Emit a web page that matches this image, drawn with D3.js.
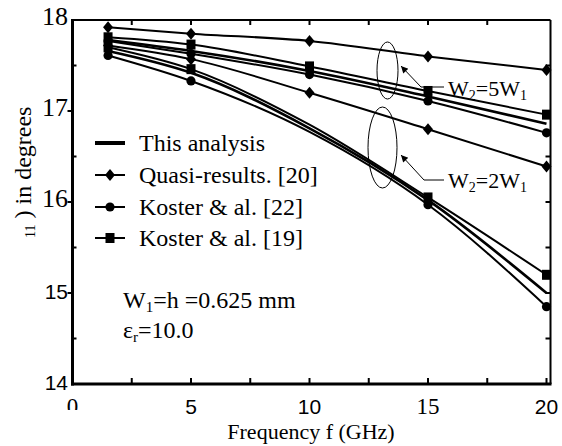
<!DOCTYPE html>
<html>
<head>
<meta charset="utf-8">
<script src="https://cdn.jsdelivr.net/npm/d3@7"></script>
<style>
  body { margin: 0; background: #fff; }
  .serif { font-family: "Liberation Serif", "Times New Roman", serif; }
  .sans { font-family: "Liberation Sans", Arial, sans-serif; }
</style>
</head>
<body>
<div id="chart"></div>
<script>
// frequencies (GHz)
var freqs = [1.5, 5, 10, 15, 20];

// W2 = 5W1
var thisAnalysis5 = [17.78, 17.66, 17.44, 17.16, 16.86];
var quasi5 = [17.92, 17.85, 17.77, 17.60, 17.45];
var koster22_5 = [17.77, 17.63, 17.40, 17.11, 16.76];
var koster19_5 = [17.81, 17.73, 17.49, 17.22, 16.96];

// W2 = 2W1
var thisAnalysis2 = [17.66, 17.42, 16.81, 16.02, 15.00];
var quasi2 = [17.72, 17.57, 17.20, 16.80, 16.39];
var koster22_2 = [17.61, 17.33, 16.77, 15.97, 14.85];
var koster19_2 = [17.70, 17.46, 16.85, 16.05, 15.20];

var xTicks = [0, 5, 10, 15, 20];
var yTicks = [14, 15, 16, 17, 18];
var legendLabels = ["This analysis", "Quasi-results. [20]", "Koster & al. [22]", "Koster & al. [19]"];

var svgWidth = 562;
var svgHeight = 446;

var svg = d3.select("#chart")
  .append("svg")
  .attr("width", svgWidth)
  .attr("height", svgHeight);

var x = d3.scaleLinear().domain([0, 20]).range([72.5, 546.5]);
var y = d3.scaleLinear().domain([14, 18]).range([384, 20]);
var frameRight = 550.5;

// marker shapes
function marker(g, type, cx, cy) {
  if (type == "diamond") {
    g.append("path")
      .attr("d", `M${cx},${cy - 6}L${cx + 5},${cy}L${cx},${cy + 6}L${cx - 5},${cy}Z`)
      .attr("fill", "#000");
  } else if (type == "circle") {
    g.append("circle").attr("cx", cx).attr("cy", cy).attr("r", 4.6).attr("fill", "#000");
  } else if (type == "square") {
    g.append("rect").attr("x", cx - 4.5).attr("y", cy - 5).attr("width", 9).attr("height", 10).attr("fill", "#000");
  }
}

var series = [
  { vals: thisAnalysis5, type: null, w: 2.6 },
  { vals: quasi5, type: "diamond", w: 2 },
  { vals: koster22_5, type: "circle", w: 2 },
  { vals: koster19_5, type: "square", w: 2 },
  { vals: thisAnalysis2, type: null, w: 2.6 },
  { vals: quasi2, type: "diamond", w: 2 },
  { vals: koster22_2, type: "circle", w: 2, skip: [10] },
  { vals: koster19_2, type: "square", w: 2, skip: [10] }
];

var line = d3.line()
  .x(d => x(d[0]))
  .y(d => y(d[1]))
  .curve(d3.curveMonotoneX);

var plot = svg.append("g");
series.forEach(function(s) {
  var pts = freqs.map((f, i) => [f, s.vals[i]]);
  plot.append("path")
    .attr("d", line(pts))
    .attr("fill", "none")
    .attr("stroke", "#000")
    .attr("stroke-width", s.w);
  if (s.type) {
    pts.forEach(function(p) {
      if (s.skip && s.skip.indexOf(p[0]) >= 0) return;
      marker(plot, s.type, x(p[0]), y(p[1]));
    });
  }
});

// frame
var frame = svg.append("g").attr("stroke", "#000");
frame.append("line").attr("x1", x(0)).attr("x2", frameRight).attr("y1", y(18)).attr("y2", y(18)).attr("stroke-width", 2);
frame.append("line").attr("x1", frameRight).attr("x2", frameRight).attr("y1", y(18)).attr("y2", y(14)).attr("stroke-width", 2);
frame.append("line").attr("x1", x(0)).attr("x2", x(0)).attr("y1", y(18) - 1).attr("y2", y(14) + 1.5).attr("stroke-width", 3);
frame.append("line").attr("x1", x(0) - 1.5).attr("x2", frameRight + 1).attr("y1", y(14)).attr("y2", y(14)).attr("stroke-width", 3);

// ticks
d3.range(2.5, 20.01, 2.5).forEach(function(t) {
  frame.append("line").attr("x1", x(t)).attr("x2", x(t)).attr("y1", y(14)).attr("y2", y(14) - 6).attr("stroke-width", 2);
  if (t < 20) frame.append("line").attr("x1", x(t)).attr("x2", x(t)).attr("y1", y(18)).attr("y2", y(18) + 5).attr("stroke-width", 2);
});
d3.range(14.5, 18, 0.5).forEach(function(t) {
  frame.append("line").attr("x1", frameRight).attr("x2", frameRight - 5).attr("y1", y(t)).attr("y2", y(t)).attr("stroke-width", 2);
  if (t % 1 == 0) {
    frame.append("line").attr("x1", x(0)).attr("x2", x(0) - 5).attr("y1", y(t)).attr("y2", y(t)).attr("stroke-width", 2);
  } else {
    frame.append("line").attr("x1", x(0)).attr("x2", x(0) + 4).attr("y1", y(t)).attr("y2", y(t)).attr("stroke-width", 2);
  }
});

// tick labels (mixed fonts as in the scan)
var serifY = [16, 17, 18];
yTicks.forEach(function(t) {
  var serif = serifY.indexOf(t) >= 0;
  svg.append("text")
    .attr("class", serif ? "serif" : "sans")
    .attr("x", 68)
    .attr("y", y(t) + (serif ? 5 : 6))
    .attr("text-anchor", "end")
    .attr("font-size", serif ? 26 : 21)
    .text(t);
});

svg.append("defs").append("clipPath").attr("id", "zeroClip")
  .append("rect").attr("x", 0).attr("y", 0).attr("width", 200).attr("height", 410);

var serifX = [0, 15];
xTicks.forEach(function(t) {
  var serif = serifX.indexOf(t) >= 0;
  var lab = svg.append("text")
    .attr("class", serif ? "serif" : "sans")
    .attr("x", x(t))
    .attr("y", 414)
    .attr("text-anchor", "middle")
    .attr("font-size", serif ? 23 : 21)
    .text(t);
  if (t == 0) lab.attr("clip-path", "url(#zeroClip)");
});

// axis titles
svg.append("text")
  .attr("class", "serif")
  .attr("x", 311)
  .attr("y", 439)
  .attr("text-anchor", "middle")
  .attr("font-size", 22)
  .text("Frequency f (GHz)");

var yTitle = svg.append("text")
  .attr("class", "serif")
  .attr("transform", "translate(31, 238) rotate(-90)")
  .attr("font-size", 24);
yTitle.append("tspan").attr("font-size", 14).attr("dy", 4).text("11");
yTitle.append("tspan").attr("dy", -4).text(" ) in degrees");

// legend
var legend = svg.append("g");
var legendTypes = [null, "diamond", "circle", "square"];
var legendY = [143, 175, 207, 238];
legendLabels.forEach(function(lbl, i) {
  legend.append("line")
    .attr("x1", 95).attr("x2", 125)
    .attr("y1", legendY[i]).attr("y2", legendY[i])
    .attr("stroke", "#000")
    .attr("stroke-width", i == 0 ? 4 : 2);
  if (legendTypes[i]) marker(legend, legendTypes[i], 110, legendY[i]);
  legend.append("text")
    .attr("class", "serif")
    .attr("x", 139)
    .attr("y", legendY[i] + 8)
    .attr("font-size", 24)
    .text(lbl);
});

// parameter note
var note1 = svg.append("text").attr("class", "serif").attr("x", 123).attr("y", 308).attr("font-size", 24);
note1.append("tspan").text("W");
note1.append("tspan").attr("font-size", 15).attr("dy", 4).text("1");
note1.append("tspan").attr("dy", -4).text("=h =0.625 mm");

var note2 = svg.append("text").attr("class", "serif").attr("x", 123).attr("y", 338).attr("font-size", 24);
note2.append("tspan").text("ε");
note2.append("tspan").attr("font-size", 15).attr("dy", 4).text("r");
note2.append("tspan").attr("dy", -4).text("=10.0");

// group annotations
svg.append("defs").append("marker")
  .attr("id", "arrow")
  .attr("viewBox", "0 0 10 10")
  .attr("refX", 10).attr("refY", 5)
  .attr("markerWidth", 9).attr("markerHeight", 7)
  .attr("markerUnits", "userSpaceOnUse")
  .attr("orient", "auto")
  .append("path").attr("d", "M0,0L10,5L0,10Z").attr("fill", "#000");

var ann = svg.append("g").attr("fill", "none").attr("stroke", "#000").attr("stroke-width", 1);
ann.append("ellipse").attr("cx", 387.5).attr("cy", 70.5).attr("rx", 10.5).attr("ry", 28.5);
ann.append("ellipse").attr("cx", 382.5).attr("cy", 147.5).attr("rx", 14.5).attr("ry", 40.5);
ann.append("path").attr("d", "M444,87L421,87L401,66").attr("marker-end", "url(#arrow)");
ann.append("path").attr("d", "M444,180L424,180L401,155").attr("marker-end", "url(#arrow)");

function groupLabel(yy, k) {
  var t = svg.append("text").attr("class", "serif").attr("x", 448).attr("y", yy).attr("font-size", 22);
  t.append("tspan").text("W");
  t.append("tspan").attr("font-size", 14).attr("dy", 4).text("2");
  t.append("tspan").attr("dy", -4).text("=" + k + "W");
  t.append("tspan").attr("font-size", 14).attr("dy", 4).text("1");
}
groupLabel(96, 5);
groupLabel(188, 2);
</script>
</body>
</html>
